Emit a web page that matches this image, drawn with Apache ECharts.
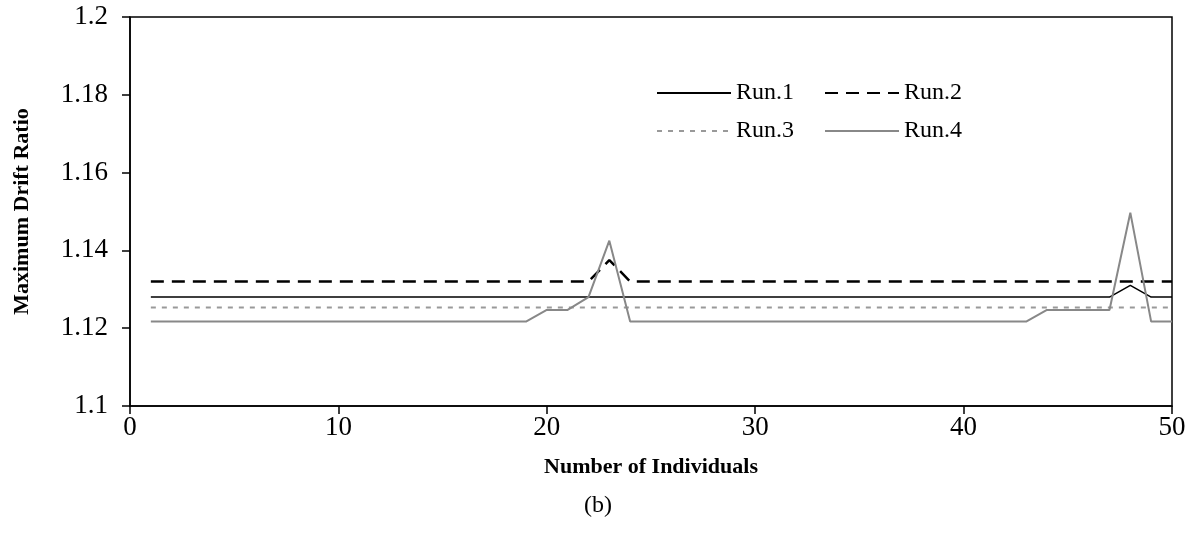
<!DOCTYPE html>
<html>
<head>
<meta charset="utf-8">
<script src="https://cdn.jsdelivr.net/npm/echarts@6/dist/echarts.min.js"></script>
<style>html,body{margin:0;padding:0;background:#fff}#c{width:1196px;height:549px}</style>
</head>
<body>
<div id="c"></div>
<script>
const xs = Array.from({length: 50}, (_, i) => i + 1);
const run1 = [1.128,1.128,1.128,1.128,1.128,1.128,1.128,1.128,1.128,1.128,
              1.128,1.128,1.128,1.128,1.128,1.128,1.128,1.128,1.128,1.128,
              1.128,1.128,1.128,1.128,1.128,1.128,1.128,1.128,1.128,1.128,
              1.128,1.128,1.128,1.128,1.128,1.128,1.128,1.128,1.128,1.128,
              1.128,1.128,1.128,1.128,1.128,1.128,1.128,1.131,1.128,1.128];
const run2 = [1.132,1.132,1.132,1.132,1.132,1.132,1.132,1.132,1.132,1.132,
              1.132,1.132,1.132,1.132,1.132,1.132,1.132,1.132,1.132,1.132,
              1.132,1.132,1.1375,1.132,1.132,1.132,1.132,1.132,1.132,1.132,
              1.132,1.132,1.132,1.132,1.132,1.132,1.132,1.132,1.132,1.132,
              1.132,1.132,1.132,1.132,1.132,1.132,1.132,1.132,1.132,1.132];
const run3 = [1.1253,1.1253,1.1253,1.1253,1.1253,1.1253,1.1253,1.1253,1.1253,1.1253,
              1.1253,1.1253,1.1253,1.1253,1.1253,1.1253,1.1253,1.1253,1.1253,1.1253,
              1.1253,1.1253,1.1253,1.1253,1.1253,1.1253,1.1253,1.1253,1.1253,1.1253,
              1.1253,1.1253,1.1253,1.1253,1.1253,1.1253,1.1253,1.1253,1.1253,1.1253,
              1.1253,1.1253,1.1253,1.1253,1.1253,1.1253,1.1253,1.1253,1.1253,1.1253];
const run4 = [1.1217,1.1217,1.1217,1.1217,1.1217,1.1217,1.1217,1.1217,1.1217,1.1217,
              1.1217,1.1217,1.1217,1.1217,1.1217,1.1217,1.1217,1.1217,1.1217,1.1247,
              1.1247,1.128,1.1425,1.1217,1.1217,1.1217,1.1217,1.1217,1.1217,1.1217,
              1.1217,1.1217,1.1217,1.1217,1.1217,1.1217,1.1217,1.1217,1.1217,1.1217,
              1.1217,1.1217,1.1217,1.1247,1.1247,1.1247,1.1247,1.1497,1.1217,1.1217];
const yTicks = ['1.1','1.12','1.14','1.16','1.18','1.2'];
const xTicks = ['0','10','20','30','40','50'];

const pair = (arr) => xs.map((x, i) => [x, arr[i]]);
const font = 'Liberation Serif';
const chart = echarts.init(document.getElementById('c'));
const legendBase = {left: 651, itemWidth: 74, itemHeight: 14, itemGap: 30,
  itemStyle: {opacity: 0},
  textStyle: {fontFamily: font, fontSize: 24, color: '#000'}};
chart.setOption({
  animation: false,
  backgroundColor: '#fff',
  textStyle: {fontFamily: font, color: '#000'},
  grid: {left: 130, right: 24, top: 17, bottom: 143, show: true, borderColor: '#000', borderWidth: 1.5,
         containLabel: false, outerBoundsMode: 'none'},
  legend: [
    Object.assign({data: ['Run.1', 'Run.2'], top: 76}, legendBase),
    Object.assign({data: ['Run.3', 'Run.4'], top: 114}, legendBase)
  ],
  xAxis: {
    type: 'value', min: 0, max: 50, interval: 10,
    name: 'Number of Individuals', nameLocation: 'middle', nameGap: 50,
    nameTextStyle: {fontFamily: font, fontSize: 22, fontWeight: 'bold', color: '#000'},
    axisLine: {lineStyle: {color: '#000', width: 1.5}},
    axisTick: {length: 8, lineStyle: {color: '#000', width: 1.5}},
    axisLabel: {fontFamily: font, fontSize: 27, color: '#000', margin: 8,
      formatter: (v) => xTicks[Math.round(v / 10)]},
    splitLine: {show: false}
  },
  yAxis: {
    type: 'value', min: 1.1, max: 1.2, interval: 0.02,
    name: 'Maximum Drift Ratio', nameLocation: 'middle', nameGap: 97,
    nameTextStyle: {fontFamily: font, fontSize: 22, fontWeight: 'bold', color: '#000'},
    axisLine: {show: true, lineStyle: {color: '#000', width: 1.5}},
    axisTick: {show: true, length: 8, lineStyle: {color: '#000', width: 1.5}},
    axisLabel: {fontFamily: font, fontSize: 27, color: '#000', margin: 22,
      formatter: (v) => yTicks[Math.round((v - 1.1) / 0.02)]},
    splitLine: {show: false}
  },
  series: [
    {name: 'Run.1', type: 'line', data: pair(run1), symbol: 'none',
     lineStyle: {color: '#000', width: 1.5, type: 'solid'}, itemStyle: {color: '#000'}},
    {name: 'Run.2', type: 'line', data: pair(run2), symbol: 'none',
     lineStyle: {color: '#000', width: 2.5, type: [13, 8]}, itemStyle: {color: '#000'}},
    {name: 'Run.3', type: 'line', data: pair(run3), symbol: 'none',
     lineStyle: {color: '#999', width: 2, type: [5, 6]}, itemStyle: {color: '#999'}},
    {name: 'Run.4', type: 'line', data: pair(run4), symbol: 'none',
     lineStyle: {color: '#888', width: 2, type: 'solid'}, itemStyle: {color: '#888'}}
  ],
  graphic: [{type: 'text', left: 'center', top: 494, style: {text: '(b)', font: '24px "Liberation Serif"', fill: '#000'}}]
});
</script>
</body>
</html>
